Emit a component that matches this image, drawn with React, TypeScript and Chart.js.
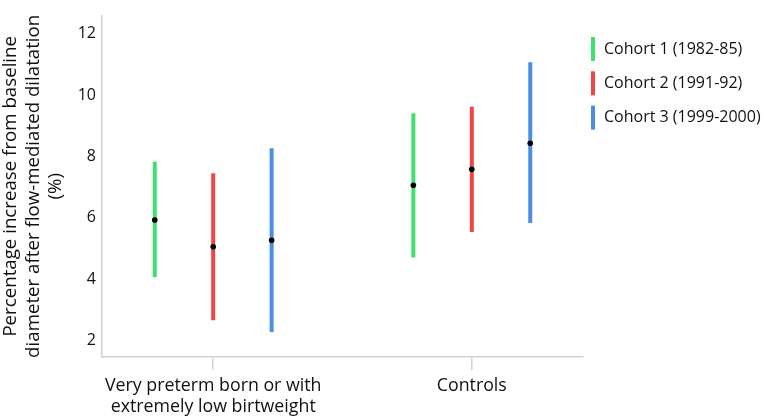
import React, { useEffect, useRef } from "react";
import { Chart, registerables } from "chart.js";

Chart.register(...registerables);

const categories: string[][] = [
  ["Very preterm born or with", "extremely low birtweight"],
  ["Controls"],
];
const cohortLabels = ["Cohort 1 (1982-85)", "Cohort 2 (1991-92)", "Cohort 3 (1999-2000)"];
const cohortColors = ["#3ee06f", "#f04545", "#4a8ee6"];

const meanC1 = [5.93, 7.06];
const meanC2 = [5.06, 7.58];
const meanC3 = [5.27, 8.43];
const lowC1 = [4.06, 4.71];
const lowC2 = [2.66, 5.54];
const lowC3 = [2.28, 5.83];
const highC1 = [7.83, 9.41];
const highC2 = [7.45, 9.62];
const highC3 = [8.27, 11.07];
const cohortOffsets = [-0.226, 0, 0.226];
const yTicks = [2, 4, 6, 8, 10, 12];

const FONT = '"Open Sans", sans-serif';

export default function App() {
  const ref = useRef<HTMLCanvasElement | null>(null);

  useEffect(() => {
    if (!ref.current) return;
    const means = [meanC1, meanC2, meanC3];
    const lows = [lowC1, lowC2, lowC3];
    const highs = [highC1, highC2, highC3];

    const barSets: any[] = cohortLabels.map((lab, i) => {
      const data: any[] = [];
      categories.forEach((_, c) => {
        const x = c + 1 + cohortOffsets[i];
        data.push({ x, y: lows[i][c] });
        data.push({ x, y: highs[i][c] });
        data.push({ x, y: null });
      });
      return {
        type: "line",
        label: lab,
        data,
        borderColor: cohortColors[i],
        backgroundColor: cohortColors[i],
        borderWidth: 4,
        pointRadius: 0,
        spanGaps: false,
        borderCapStyle: "butt",
        order: 2,
      };
    });

    const meanSets: any[] = cohortLabels.map((lab, i) => ({
      type: "scatter",
      label: lab + " mean",
      data: categories.map((_, c) => ({ x: c + 1 + cohortOffsets[i], y: means[i][c] })),
      backgroundColor: "#000",
      borderColor: "#000",
      pointRadius: 2.8,
      borderWidth: 0,
      order: 0,
    }));

    const sideLegend = {
      id: "sideLegend",
      afterDraw(chart: any) {
        const ctx = chart.ctx;
        const left = chart.chartArea.right + 10;
        ctx.save();
        ctx.font = `16px ${FONT}`;
        ctx.textBaseline = "middle";
        ctx.fillStyle = "#111";
        cohortLabels.forEach((lab, i) => {
          const cy = 49 + i * 34.3;
          ctx.strokeStyle = cohortColors[i];
          ctx.lineWidth = 4;
          ctx.beginPath();
          ctx.moveTo(left, cy - 12);
          ctx.lineTo(left, cy + 12);
          ctx.stroke();
          ctx.fillText(lab, left + 11, cy);
        });
        ctx.restore();
      },
    };

    const chart = new Chart(ref.current, {
      type: "line",
      data: { datasets: [...barSets, ...meanSets] },
      plugins: [sideLegend],
      options: {
        animation: false,
        responsive: false,
        maintainAspectRatio: false,
        layout: { padding: { top: 4, right: 182, left: 0, bottom: 0 } },
        plugins: {
          legend: { display: false },
          tooltip: { enabled: false },
        },
        scales: {
          x: {
            type: "linear",
            min: 0.57,
            max: 2.43,
            afterBuildTicks: (s: any) => {
              s.ticks = categories.map((_, c) => ({ value: c + 1 }));
            },
            afterFit: (s: any) => {
              s.height = 62;
            },
            ticks: {
              callback: (v: any) => categories[Math.round(v) - 1] || "",
              font: { family: FONT, size: 17.8, lineHeight: 1.17 },
              color: "#111",
              padding: 6,
              maxRotation: 0,
              autoSkip: false,
            },
            grid: {
              display: true,
              drawOnChartArea: false,
              drawTicks: true,
              tickLength: 13,
              color: "#d4d4d4",
              lineWidth: 1.5,
            },
            border: { display: true, color: "#d4d4d4", width: 1.5 },
          },
          y: {
            type: "linear",
            min: 1.465,
            max: 12.59,
            afterBuildTicks: (s: any) => {
              s.ticks = yTicks.map((v) => ({ value: v }));
            },
            afterFit: (s: any) => {
              s.width = 102;
            },
            ticks: {
              font: { family: FONT, size: 16 },
              color: "#111",
              padding: 6,
            },
            grid: { display: false, drawTicks: false },
            border: { display: true, color: "#d4d4d4", width: 1.5 },
            title: {
              display: true,
              text: [
                "Percentage increase from baseline",
                "diameter after flow-mediated dilatation",
                "(%)",
              ],
              font: { family: FONT, size: 18.7, lineHeight: 1.19 },
              color: "#111",
              padding: { top: 0, bottom: 0 },
            },
          },
        },
      },
    } as any);
    return () => chart.destroy();
  }, []);

  return (
    <div style={{ position: "fixed", left: 0, top: 0, width: 765, height: 419, background: "#fff" }}>
      <canvas ref={ref} width={765} height={419} style={{ width: 765, height: 419 }} />
    </div>
  );
}
